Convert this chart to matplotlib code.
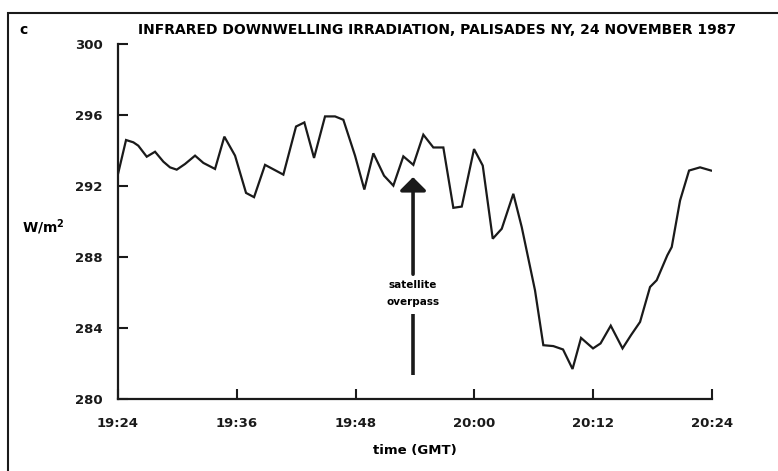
import matplotlib.pyplot as plt
from matplotlib.patches import Rectangle

# minutes after 19:24 GMT, and irradiance (W/m2)
minutes = [0.0, 0.81, 1.55, 2.05, 2.9, 3.74, 4.58, 5.25, 5.93, 6.77,
           7.78, 8.62, 9.8, 10.74, 11.82, 12.93, 13.74, 14.85, 15.76, 16.7,
           17.98, 18.82, 19.8, 20.91, 21.92, 22.76, 23.94, 24.88, 25.79, 26.87,
           27.81, 28.82, 29.83, 30.84, 31.85, 32.86, 33.87, 34.72, 35.96, 36.84,
           37.85, 38.76, 39.93, 40.78, 42.12, 42.96, 43.97, 44.95, 45.91, 46.77,
           47.98, 48.74, 49.77, 50.96, 51.82, 52.73, 53.74, 54.41, 55.48, 55.93,
           56.77, 57.68, 58.79, 59.9]
irradiance = [292.68, 294.59, 294.46, 294.27, 293.65, 293.93, 293.37, 293.05, 292.92, 293.24,
              293.71, 293.30, 292.96, 294.78, 293.71, 291.61, 291.37, 293.19, 292.92, 292.64,
              295.35, 295.58, 293.58, 295.92, 295.92, 295.73, 293.71, 291.80, 293.84, 292.58,
              292.02, 293.67, 293.19, 294.89, 294.17, 294.17, 290.77, 290.84, 294.08, 293.15,
              289.03, 289.59, 291.56, 289.68, 286.12, 283.03, 282.98, 282.79, 281.69, 283.44,
              282.85, 283.13, 284.13, 282.85, 283.6, 284.34, 286.31, 286.69, 288.09, 288.56,
              291.18, 292.87, 293.05, 292.87]

xticks = [0, 12, 24, 36, 48, 60]
xtick_labels = ["19:24", "19:36", "19:48", "20:00", "20:12", "20:24"]
yticks = [280, 284, 288, 292, 296, 300]

# satellite overpass marker (minutes, W/m2)
overpass_t = 29.8
arrow_tip = 292.5
arrow_text = 285.95
arrow_low = (281.35, 284.8)

plt.rcParams['font.family'] = 'DejaVu Sans'
plt.rcParams['font.weight'] = 'bold'

fig = plt.figure(figsize=(7.78, 4.71), dpi=100)
ax = fig.add_axes([0.1517, 0.1529, 0.7635, 0.7537])

ax.plot(minutes, irradiance, color='#1a1a1a', lw=1.6, solid_joinstyle='miter')

ax.annotate("satellite\noverpass", xy=(overpass_t, arrow_tip), xytext=(overpass_t, arrow_text),
            ha='center', va='center', fontsize=7.5, fontweight='bold', linespacing=1.9,
            arrowprops=dict(arrowstyle='-|>,head_length=0.4,head_width=0.4',
                            mutation_scale=20, lw=2.6, color='#1a1a1a',
                            shrinkA=2, shrinkB=0))
ax.plot([overpass_t, overpass_t], arrow_low, color='#1a1a1a', lw=2.6, solid_capstyle='butt')

ax.set_xlim(0, 60)
ax.set_ylim(280, 300)
ax.set_xticks(xticks)
ax.set_xticklabels(xtick_labels)
ax.set_yticks(yticks)
ax.tick_params(direction='in', length=7, width=1.5, labelsize=9.5, colors='#1a1a1a')
ax.tick_params(axis='x', pad=13)
ax.tick_params(axis='y', pad=11)
for lbl in ax.get_xticklabels() + ax.get_yticklabels():
    lbl.set_fontweight('bold')

ax.spines['top'].set_visible(False)
ax.spines['right'].set_visible(False)
ax.spines['left'].set_linewidth(1.6)
ax.spines['bottom'].set_linewidth(1.6)
ax.spines['left'].set_color('#1a1a1a')
ax.spines['bottom'].set_color('#1a1a1a')

ax.set_xlabel("time (GMT)", fontsize=9.5, fontweight='bold', labelpad=10)
fig.text(43 / 778, 1 - 227 / 471, "W/m$^2$", ha='center', va='center',
         fontsize=10, fontweight='bold')

fig.text(437 / 778, 1 - 30 / 471,
         "INFRARED DOWNWELLING IRRADIATION, PALISADES NY, 24 NOVEMBER 1987",
         ha='center', va='center', fontsize=10, fontweight='bold')
fig.text(24 / 778, 1 - 30 / 471, "c", ha='center', va='center',
         fontsize=10, fontweight='bold')

# frame around the panel
fig.patches.append(Rectangle((8 / 778, -0.05), 1.2, 1 - 13 / 471 + 0.05,
                             transform=fig.transFigure, fill=False,
                             lw=1.5, edgecolor='#1a1a1a'))

fig.savefig("out.png", dpi=100)
